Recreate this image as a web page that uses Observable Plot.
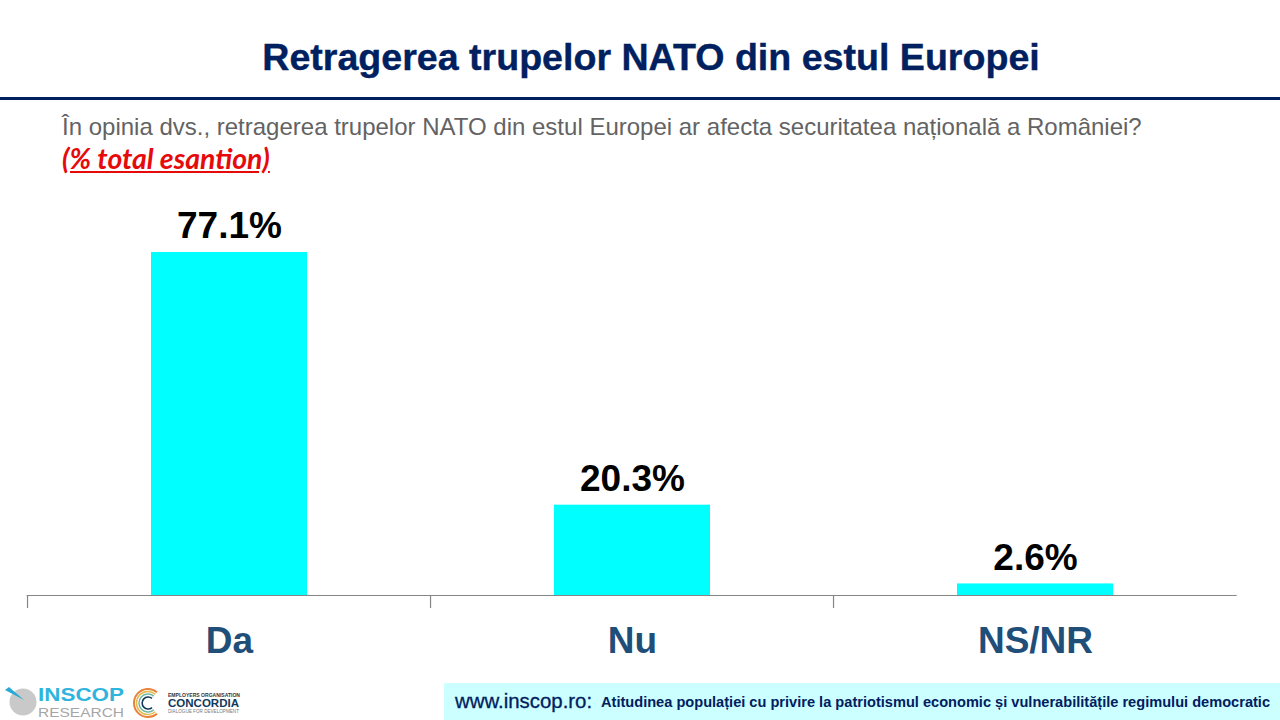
<!DOCTYPE html>
<html lang="ro">
<head>
<meta charset="utf-8">
<script src="https://cdn.jsdelivr.net/npm/d3@7"></script>
<script src="https://cdn.jsdelivr.net/npm/@observablehq/plot@0.6"></script>
<style>
html,body{margin:0;padding:0;background:#fff;width:1280px;height:720px;overflow:hidden}
#page{position:relative;width:1280px;height:720px;font-family:"Liberation Sans",Arial,sans-serif}
#title{position:absolute;left:0;width:1302px;top:35px;text-align:center;font-size:37.6px;font-weight:bold;color:#002060;line-height:44px;white-space:nowrap;-webkit-text-stroke:.4px #002060}
#rule{position:absolute;left:0;top:97px;width:1280px;height:3px;background:#002060}
#sub{position:absolute;left:62px;top:112px;font-size:24px;line-height:30px;color:#636363;white-space:nowrap}
#base{position:absolute;left:62px;top:143px;font-family:Lato,sans-serif;font-size:28.4px;line-height:30px;font-weight:bold;font-style:italic;color:#e60a0a;text-decoration:underline;white-space:nowrap}
#chart{position:absolute;left:0;top:190px}
#foot{position:absolute;left:444px;top:683px;width:836px;height:37px;background:#ccffff;color:#002060;white-space:nowrap;line-height:37px;font-weight:bold}
#foot .w{position:absolute;left:11px;font-size:20.4px;font-weight:normal;-webkit-text-stroke:.3px #002060}
#foot .t{position:absolute;left:157px;top:1px;font-size:14.6px}
#logo{position:absolute;left:0;top:680px}
</style>
</head>
<body>
<div id="page">
  <div id="title">Retragerea trupelor NATO din estul Europei</div>
  <div id="rule"></div>
  <div id="sub">În opinia dvs., retragerea trupelor NATO din estul Europei ar afecta securitatea națională a României?</div>
  <div id="base">(% total esantion)</div>
  <div id="chart"></div>
  <svg id="logo" width="320" height="40" viewBox="0 0 320 40">
    <circle cx="23" cy="22" r="13.5" fill="#c9c9c9"/>
    <path d="M5 10 L9 7 L24 20Z" fill="#29a9d6"/>
    <text x="38" y="21" font-family="Liberation Sans" font-size="18.5" font-weight="bold" fill="#2fb4dd" textLength="86" lengthAdjust="spacingAndGlyphs">INSCOP</text>
    <text x="38" y="36.8" font-family="Liberation Sans" font-size="13" fill="#a6a6a6" textLength="86" lengthAdjust="spacingAndGlyphs">RESEARCH</text>
    <g fill="none">
      <path d="M157 12.3 A14 14 0 1 0 157 33.7" stroke="#e8833a" stroke-width="2"/>
      <path d="M155.4 14.2 A11.5 11.5 0 1 0 155.4 31.8" stroke="#e5b84a" stroke-width="1.5"/>
      <path d="M153.8 16.1 A9 9 0 1 0 153.8 29.9" stroke="#6fb8a8" stroke-width="1.5"/>
      <path d="M152 18.4 A6 6 0 1 0 152 27.6" stroke="#12395b" stroke-width="1.6"/>
    </g>
    <text x="168" y="17" font-family="Liberation Sans" font-size="6" font-weight="bold" fill="#333" textLength="72" lengthAdjust="spacingAndGlyphs">EMPLOYERS ORGANISATION</text>
    <text x="168" y="27" font-family="Liberation Sans" font-size="11" font-weight="bold" fill="#12395b" textLength="71" lengthAdjust="spacingAndGlyphs">CONCORDIA</text>
    <text x="168" y="33" font-family="Liberation Sans" font-size="6" fill="#777" textLength="71" lengthAdjust="spacingAndGlyphs">DIALOGUE FOR DEVELOPMENT</text>
  </svg>
  <div id="foot"><span class="w">www.inscop.ro:</span><span class="t">Atitudinea populației cu privire la patriotismul economic și vulnerabilitățile regimului democratic</span></div>
</div>
<script>
const categories = ["Da", "Nu", "NS/NR"];
const shares = [77.1, 20.3, 2.6];
const valueLabels = ["77.1%", "20.3%", "2.6%"];
const rows = categories.map((c, i) => ({c, v: shares[i], label: valueLabels[i]}));

const W = 1280, H = 480, base = 595 - 190;
const bandStep = 1210 / 3;
const chart = Plot.plot({
  width: W, height: H,
  marginLeft: 26.7, marginRight: 43.3, marginTop: 0, marginBottom: H - base,
  style: {background: "transparent", fontFamily: "'Liberation Sans',Arial,sans-serif", overflow: "visible"},
  x: {domain: categories, paddingInner: 0.613, paddingOuter: 0.3065, label: null},
  y: {domain: [0, base / 4.449], label: null, axis: null},
  marks: [
    Plot.barY(rows, {x: "c", y: "v", fill: "#00ffff"}),
    Plot.ruleY([0], {stroke: "#868686", strokeWidth: 1.2}),
    Plot.axisX({tickSize: 13, fill: "none", stroke: "#868686", strokeWidth: 1.2, strokeOpacity: 1, dx: -bandStep / 2 - 0.3, label: null}),
    Plot.axisX({tickSize: 0, tickPadding: 46, fontSize: 37, fontWeight: "bold", fill: "#1f4e79", label: null, lineAnchor: "middle", textStroke: "none"}),
    Plot.text(rows, {x: "c", y: "v", text: "label", dy: -26, fontSize: 37, fontWeight: "bold", fill: "#000"})
  ]
});
document.getElementById("chart").appendChild(chart);
</script>
</body>
</html>
